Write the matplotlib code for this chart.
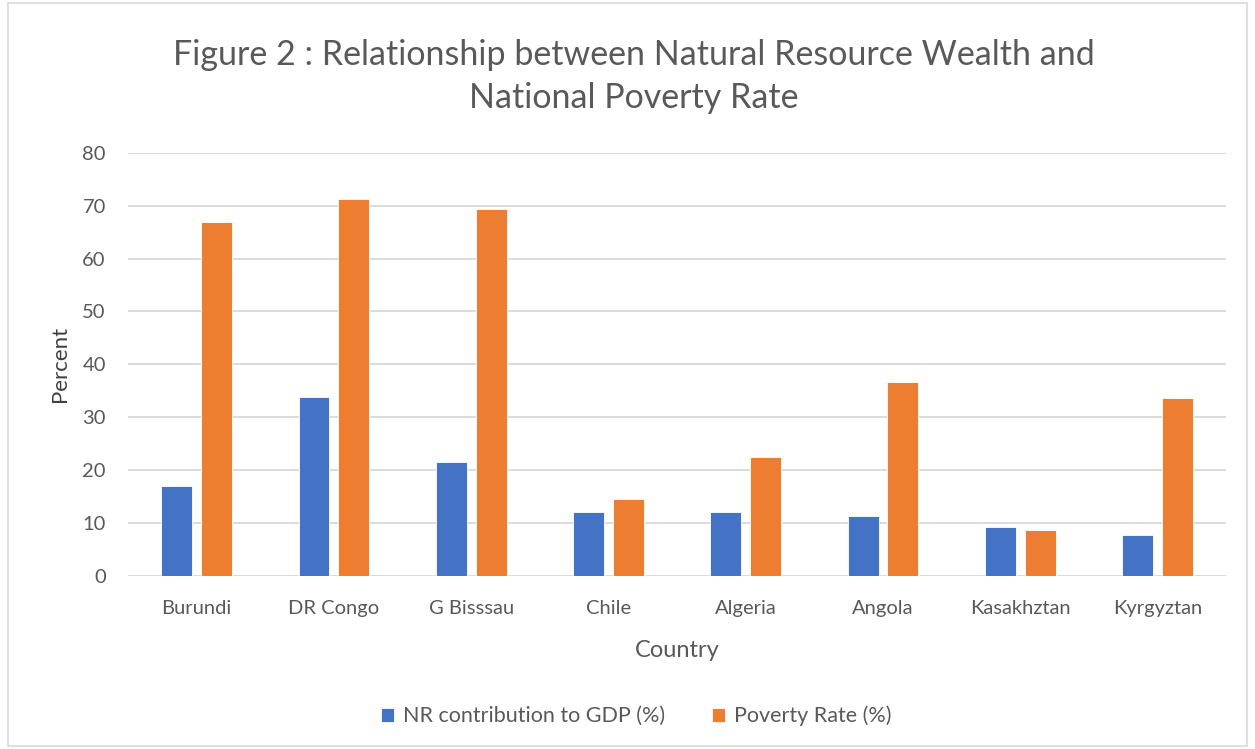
import matplotlib.pyplot as plt
import numpy as np
from matplotlib.patches import Rectangle

plt.rcParams['font.family'] = ['Lato', 'DejaVu Sans']

countries = ["Burundi", "DR Congo", "G Bisssau", "Chile", "Algeria", "Angola", "Kasakhztan", "Kyrgyztan"]
nr_gdp = [17.1, 33.9, 21.5, 12.1, 12.1, 11.4, 9.2, 7.8]
poverty = [66.9, 71.3, 69.3, 14.5, 22.5, 36.7, 8.7, 33.7]

blue = '#4472C4'
orange = '#ED7D31'
grey = '#595959'

fig = plt.figure(figsize=(12.55, 7.49), dpi=100)
ax = fig.add_axes([0.102, 0.231, 0.875, 0.565])

x = np.arange(len(countries))
w = 0.225
ax.bar(x - 0.145, nr_gdp, w, color=blue, edgecolor='white', linewidth=0.6,
       label='NR contribution to GDP (%)', zorder=3)
ax.bar(x + 0.145, poverty, w, color=orange, edgecolor='white', linewidth=0.6,
       label='Poverty Rate (%)', zorder=3)

ax.set_xlim(-0.5, 7.5)
ax.set_ylim(0, 80)
ax.set_yticks(range(0, 81, 10))
ax.set_xticks(x)
ax.set_xticklabels(countries)
ax.yaxis.grid(True, color='#d9d9d9', linewidth=1.3, zorder=0)
ax.set_axisbelow(True)
for s in ax.spines.values():
    s.set_visible(False)
ax.tick_params(length=0, labelsize=14.5, labelcolor=grey)
ax.tick_params(axis='x', pad=17)
ax.tick_params(axis='y', pad=16)

ax.set_xlabel('Country', fontsize=17, color=grey, labelpad=17)
ax.set_ylabel('Percent', fontsize=16, color='#404040', labelpad=9)

fig.text(0.505, 0.898, 'Figure 2 : Relationship between Natural Resource Wealth and\nNational Poverty Rate',
         ha='center', va='center', fontsize=24.5, color=grey, linespacing=1.4)

leg = fig.legend(loc='center', bbox_to_anchor=(0.507, 0.044), ncol=2, frameon=False,
                 fontsize=15.5, handlelength=0.6, handleheight=0.6, columnspacing=2.2, handletextpad=0.4)
for t in leg.get_texts():
    t.set_color(grey)

fig.patches.append(Rectangle((0.006, 0.004), 0.988, 0.992, transform=fig.transFigure,
                             fill=False, edgecolor='#d9d9d9', linewidth=1.2))

fig.savefig('out.png', dpi=100, facecolor='white')
